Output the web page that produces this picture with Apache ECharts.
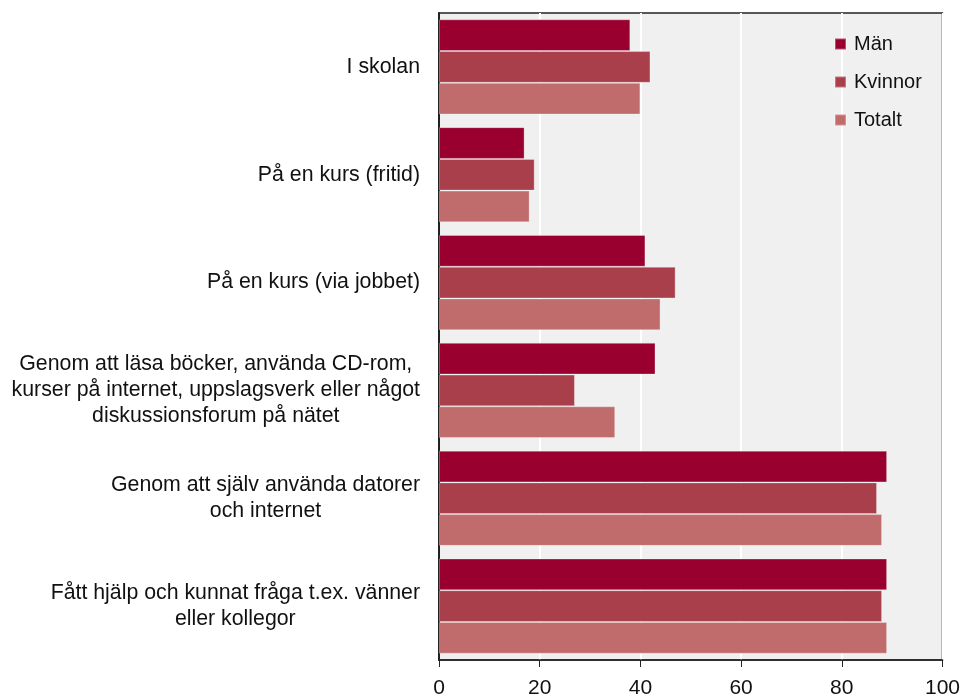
<!DOCTYPE html>
<html>
<head>
<meta charset="utf-8">
<script src="https://cdn.jsdelivr.net/npm/echarts@6/dist/echarts.min.js"></script>
<style>
  html, body { margin: 0; padding: 0; background: #fff; }
  #chart { width: 963px; height: 699px; }
</style>
</head>
<body>
<div id="chart"></div>
<script>
var categories = [
    'I skolan',
    'På en kurs (fritid)',
    'På en kurs (via jobbet)',
    'Genom att läsa böcker, använda CD-rom,\nkurser på internet, uppslagsverk eller något\ndiskussionsforum på nätet',
    'Genom att själv använda datorer\noch internet',
    'Fått hjälp och kunnat fråga t.ex. vänner\neller kollegor'
];
var man = [38, 17, 41, 43, 89, 89];
var kvinnor = [42, 19, 47, 27, 87, 88];
var totalt = [40, 18, 44, 35, 88, 89];
var xTicks = [0, 20, 40, 60, 80, 100];

var FONT = 'Liberation Sans, Arial, sans-serif';

function barSeries(name, data, color) {
    return {
        name: name,
        type: 'bar',
        data: data,
        barGap: '0%',
        barCategoryGap: '11.7%',
        itemStyle: {
            color: color,
            borderColor: 'rgba(255,255,255,0.3)',
            borderWidth: 1
        },
        emphasis: { disabled: true },
        animation: false
    };
}

var chart = echarts.init(document.getElementById('chart'));
chart.setOption({
    backgroundColor: '#ffffff',
    textStyle: { fontFamily: FONT },
    grid: {
        left: 439,
        right: 20,
        top: 13,
        bottom: 34,
        show: true,
        backgroundColor: '#f0f0f0',
        borderColor: '#222',
        borderWidth: 1.5
    },
    legend: {
        orient: 'vertical',
        left: 834,
        top: 34,
        padding: 0,
        itemWidth: 11,
        itemHeight: 11,
        itemGap: 18,
        icon: 'rect',
        textStyle: { fontSize: 20, color: '#111', fontFamily: FONT, lineHeight: 20, padding: [0, 0, 0, 3] },
        data: ['Män', 'Kvinnor', 'Totalt']
    },
    xAxis: {
        type: 'value',
        min: xTicks[0],
        max: xTicks[xTicks.length - 1],
        interval: 20,
        axisLine: { show: true, lineStyle: { color: '#222', width: 1.5 } },
        axisTick: { show: true, length: 7, lineStyle: { color: '#222', width: 1 } },
        axisLabel: { fontSize: 21, color: '#111', margin: 18, fontFamily: FONT },
        splitLine: { show: true, lineStyle: { color: '#ffffff', width: 2 } }
    },
    yAxis: {
        type: 'category',
        inverse: true,
        data: categories,
        axisLine: { show: true, lineStyle: { color: '#222', width: 2 } },
        axisTick: { show: false },
        splitLine: { show: false },
        axisLabel: {
            margin: 19,
            formatter: function (v) { return '{c|' + v + '}'; },
            rich: {
                c: { align: 'center', fontSize: 21.3, lineHeight: 26, color: '#111', fontFamily: FONT }
            }
        }
    },
    series: [
        barSeries('Män', man, '#99002f'),
        barSeries('Kvinnor', kvinnor, '#a93f4a'),
        barSeries('Totalt', totalt, '#c06b6c')
    ]
});
</script>
</body>
</html>
